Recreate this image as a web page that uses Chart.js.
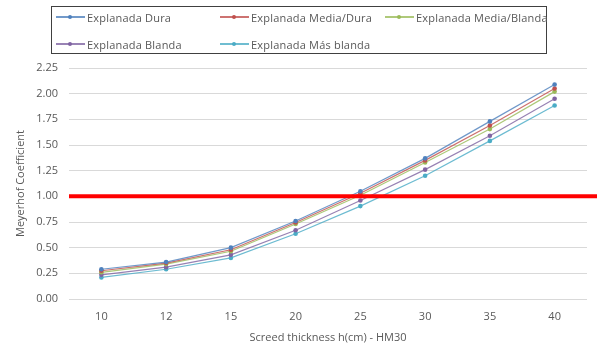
<!DOCTYPE html>
<html>
<head>
<meta charset="utf-8">
<script src="https://cdn.jsdelivr.net/npm/chart.js@4.4.1/dist/chart.umd.min.js"></script>
<style>
  html, body { margin: 0; padding: 0; background: #fff; }
  #wrap { position: relative; width: 607px; height: 348px; }
  #legend {
    position: absolute; left: 51px; top: 6px; width: 496px; height: 48px;
    border: 1px solid #404040; box-sizing: border-box;
    font-family: 'Open Sans', sans-serif; font-size: 11px; color: #595959;
  }
  .item { position: absolute; display: flex; align-items: center; height: 16px; white-space: nowrap; letter-spacing: 0.2px; }
  .sw { position: relative; width: 29px; height: 10px; margin-right: 2px; }
  .sw .ln { position: absolute; left: 0; right: 0; top: 4px; height: 2px; opacity: 0.8; }
  .sw .dot { position: absolute; left: 12px; top: 3px; width: 4px; height: 4px; border-radius: 50%; }
</style>
</head>
<body>
<div id="wrap">
  <canvas id="chart" width="607" height="348"></canvas>
  <div id="legend"></div>
</div>
<script>
// data
const thickness = ['10', '12', '15', '20', '25', '30', '35', '40'];
const seriesNames = ['Explanada Dura', 'Explanada Media/Dura', 'Explanada Media/Blanda', 'Explanada Blanda', 'Explanada Más blanda'];
const dura        = [0.29, 0.36, 0.50, 0.76, 1.05, 1.37, 1.73, 2.09];
const mediaDura   = [0.275, 0.35, 0.48, 0.745, 1.03, 1.35, 1.69, 2.05];
const mediaBlanda = [0.26, 0.34, 0.465, 0.73, 1.01, 1.33, 1.655, 2.02];
const blanda      = [0.235, 0.31, 0.43, 0.67, 0.96, 1.26, 1.59, 1.95];
const masBlanda   = [0.21, 0.29, 0.40, 0.635, 0.905, 1.20, 1.54, 1.885];
const colors = ['#4F81BD', '#C0504D', '#9BBB59', '#8064A2', '#4BACC6'];
const yTicks = [0, 0.25, 0.5, 0.75, 1.0, 1.25, 1.5, 1.75, 2.0, 2.25];
const THRESHOLD = 1.0;

const allSeries = [dura, mediaDura, mediaBlanda, blanda, masBlanda];

// legend (Excel style, two rows in a boxed frame)
const legendEl = document.getElementById('legend');
const legendPos = [[4, 2], [168, 2], [333, 2], [4, 29], [168, 29]];
seriesNames.forEach((name, i) => {
    const it = document.createElement('div');
    it.className = 'item';
    it.style.left = legendPos[i][0] + 'px';
    it.style.top = legendPos[i][1] + 'px';
    it.innerHTML = '<div class="sw"><div class="ln" style="background:' + colors[i] + '"></div>' +
        '<div class="dot" style="background:' + colors[i] + '"></div></div><span>' + name + '</span>';
    legendEl.appendChild(it);
});

// red horizontal reference line at 1.00
const thresholdLine = {
    id: 'thresholdLine',
    afterDatasetsDraw(chart) {
        const y = chart.scales.y.getPixelForValue(THRESHOLD);
        const ctx = chart.ctx;
        ctx.save();
        ctx.strokeStyle = '#FF0000';
        ctx.lineWidth = 4;
        ctx.beginPath();
        ctx.moveTo(chart.chartArea.left, y);
        ctx.lineTo(chart.chartArea.right + 10, y);
        ctx.stroke();
        ctx.restore();
    }
};

const fontFamily = "'Open Sans', sans-serif";

new Chart(document.getElementById('chart'), {
    type: 'line',
    data: {
        labels: thickness,
        datasets: allSeries.map((vals, i) => ({
            label: seriesNames[i],
            data: vals,
            borderColor: colors[i] + 'D0',
            backgroundColor: colors[i],
            borderWidth: 1.2,
            pointRadius: 2.3,
            pointBorderWidth: 0,
            tension: 0,
            fill: false
        }))
    },
    options: {
        responsive: false,
        animation: false,
        layout: { padding: { top: 68, right: 20, left: 10, bottom: 0 } },
        plugins: {
            legend: { display: false },
            tooltip: { enabled: false }
        },
        scales: {
            x: {
                offset: true,
                grid: { display: false, drawTicks: false },
                border: { display: false },
                ticks: { color: '#595959', font: { family: fontFamily, size: 11 }, padding: 11 },
                title: {
                    display: true, text: 'Screed thickness h(cm) - HM30',
                    color: '#595959', font: { family: fontFamily, size: 11 }, padding: { top: 4 }
                },
                afterFit(scale) { scale.height = 49; }
            },
            y: {
                min: 0, max: 2.25,
                afterBuildTicks(scale) { scale.ticks = yTicks.map(v => ({ value: v })); },
                grid: { color: '#D9D9D9', drawTicks: false },
                border: { display: false },
                ticks: {
                    color: '#595959', font: { family: fontFamily, size: 11 }, padding: 11,
                    callback: v => v.toFixed(2)
                },
                title: {
                    display: true, text: 'Meyerhof Coefficient',
                    color: '#595959', font: { family: fontFamily, size: 11 }, padding: { bottom: 4 }
                },
                afterFit(scale) { scale.width = 59; }
            }
        }
    },
    plugins: [thresholdLine]
});
</script>
</body>
</html>
